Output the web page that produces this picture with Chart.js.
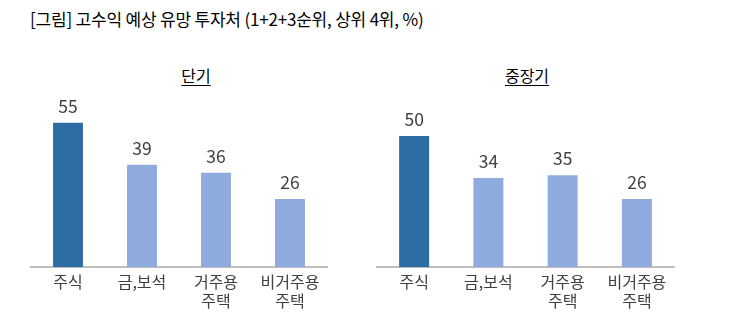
<!DOCTYPE html>
<html>
<head>
<meta charset="utf-8">
<script src="https://cdn.jsdelivr.net/npm/chart.js@4"></script>
<style>
  html, body { margin: 0; padding: 0; background: #ffffff; }
  body { width: 731px; height: 327px; position: relative; overflow: hidden;
         font-family: "Noto Sans CJK KR", "Noto Sans", sans-serif; }
  #title { position: absolute; left: 30px; top: 6px; font-size: 17px; color: #000; white-space: nowrap; letter-spacing: -0.2px; }
  .sub { position: absolute; top: 63px; font-size: 16px; color: #000; text-decoration: underline; text-underline-offset: 3px; transform: translateX(-50%); white-space: nowrap; }
  #c1wrap { position: absolute; left: 0; top: 0; width: 360px; height: 327px; }
  #c2wrap { position: absolute; left: 360px; top: 0; width: 371px; height: 327px; }
</style>
</head>
<body>
<div id="title">[그림] 고수익 예상 유망 투자처 (1+2+3순위, 상위 4위, %)</div>
<div class="sub" style="left:196px;">단기</div>
<div class="sub" style="left:527px;">중장기</div>
<div id="c1wrap"><canvas id="c1"></canvas></div>
<div id="c2wrap"><canvas id="c2"></canvas></div>
<script>
const categories = [["주식"], ["금,보석"], ["거주용", "주택"], ["비거주용", "주택"]];
const shortTerm = [55, 39, 36, 26];
const longTerm = [50, 34, 35, 26];
const panelTitles = ["단기", "중장기"];
const barColors = ["#2E6CA4", "#8FAADC", "#8FAADC", "#8FAADC"];

const valueLabels = {
  id: 'valueLabels',
  afterDatasetsDraw(chart) {
    const ctx = chart.ctx;
    ctx.save();
    ctx.font = '17.5px "Noto Sans CJK KR", "Noto Sans", sans-serif';
    ctx.fillStyle = '#404040';
    ctx.textAlign = 'center';
    ctx.textBaseline = 'bottom';
    chart.data.datasets.forEach((ds, di) => {
      chart.getDatasetMeta(di).data.forEach((el, i) => {
        ctx.fillText(String(ds.data[i]), el.x, el.y - 8);
      });
    });
    ctx.restore();
  }
};

function makeChart(id, values, padLeft, padRight) {
  return new Chart(document.getElementById(id), {
    type: 'bar',
    data: {
      labels: categories,
      datasets: [{
        data: values,
        backgroundColor: barColors,
        borderWidth: 0,
        categoryPercentage: 1.0,
        barPercentage: 0.404
      }]
    },
    options: {
      responsive: true,
      maintainAspectRatio: false,
      animation: false,
      events: [],
      layout: { padding: { left: padLeft, right: padRight, top: 86, bottom: 11 } },
      plugins: { legend: { display: false }, tooltip: { enabled: false }, title: { display: false } },
      scales: {
        x: {
          grid: { display: false, drawTicks: false },
          border: { display: true, color: '#BFBFBF', width: 2 },
          ticks: {
            color: '#404040',
            padding: 6,
            maxRotation: 0,
            autoSkip: false,
            font: { family: '"Noto Sans CJK KR", "Noto Sans", sans-serif', size: 16, lineHeight: 1.15 }
          }
        },
        y: {
          display: false,
          min: 0,
          max: 69
        }
      }
    },
    plugins: [valueLabels]
  });
}

makeChart('c1', shortTerm, 31, 33);
makeChart('c2', longTerm, 17, 57);
</script>
</body>
</html>
